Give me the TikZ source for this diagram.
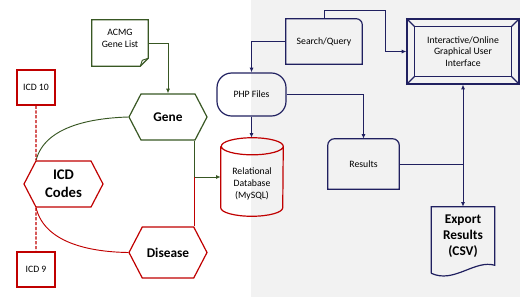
\documentclass[tikz,border=0pt]{standalone}
\usepackage{fontspec}
\setmainfont{Carlito}
\usetikzlibrary{shapes,arrows.meta,calc}

\definecolor{leafgreen}{RGB}{56,87,35}
\definecolor{deepred}{RGB}{192,0,0}
\definecolor{navyblue}{RGB}{32,32,96}

\begin{document}
\begin{tikzpicture}[x=0.75pt, y=-0.75pt, every node/.style={font=\fontsize{7.3}{8.8}\selectfont},
    >={Latex[length=3.5pt,width=3pt]}]
    \tikzstyle{hexa} = [signal, signal to=east and west, signal pointer angle=125, draw, line width=0.9pt,
        align=center, inner sep=0pt, font=\fontsize{10}{12}\selectfont\bfseries]
    \tikzstyle{codebox} = [rectangle, draw=deepred, line width=0.9pt, minimum width=28.5pt, minimum height=26.25pt]
    \tikzstyle{plain} = [draw=none, align=center, inner sep=0pt]
    \tikzstyle{gline} = [draw=leafgreen, line width=0.7pt]
    \tikzstyle{rline} = [draw=deepred, line width=0.7pt]
    \tikzstyle{nline} = [draw=navyblue, line width=0.7pt]
    \tikzstyle{outline} = [line width=0.9pt]

    \useasboundingbox (0,0) rectangle (520,297);
    \fill[black!5] (251,0) rectangle (520,297);

    \node (acmg) [plain, minimum width=42pt, minimum height=34.5pt] at (120,43)
        {\raisebox{3pt}[\height][\depth]{\begin{tabular}{@{}c@{}}ACMG\\Gene List\end{tabular}}};
    \node (icdten) [codebox] at (36,87.5) {ICD 10};
    \node (icdnine) [codebox] at (36,269.5) {ICD 9};
    \node (gene) [hexa, draw=leafgreen, minimum width=58.5pt, minimum height=34.5pt] at (168,117) {Gene};
    \node (icd) [hexa, draw=deepred, minimum width=59.25pt, minimum height=34.5pt,
        font=\fontsize{11}{13.5}\selectfont\bfseries] at (63.5,184) {ICD\\Codes};
    \node (disease) [hexa, draw=deepred, minimum width=58.5pt, minimum height=38.25pt] at (168,252.5) {Disease};
    \node (db) [plain, minimum width=46.5pt, minimum height=58.5pt] at (252,177)
        {\raisebox{-5.25pt}[\height][\depth]{\begin{tabular}{@{}c@{}}Relational\\Database\\(MySQL)\end{tabular}}};
    \node (php) [rectangle, draw=navyblue, outline, rounded corners=11pt, minimum width=51.75pt,
        minimum height=32.25pt] at (251.5,94.5) {PHP Files};
    \node (sq) [plain, minimum width=57pt, minimum height=33.75pt] at (324,41.5) {Search/Query};
    \node (results) [plain, minimum width=53.25pt, minimum height=37.5pt] at (363.5,164) {Results};
    \node (gui) [rectangle, draw=navyblue, outline, align=center, minimum width=84pt,
        minimum height=48.75pt] at (463,51.5) {Interactive/Online\\Graphical User\\Interface};
    \node (export) [plain, minimum width=47.25pt, minimum height=43.5pt,
        font=\fontsize{10}{12}\selectfont\bfseries] at (463,236) {Export\\Results\\(CSV)};

    \draw[leafgreen, outline] (acmg.north west) -- (acmg.north east) -- ([yshift=6pt]acmg.south east)
        -- ([xshift=-6pt]acmg.south east) -- (acmg.south west) -- cycle;
    \draw[leafgreen, line width=0.7pt] ([yshift=6pt]acmg.south east) -- ([xshift=-4.5pt,yshift=4.5pt]acmg.south east)
        -- ([xshift=-6pt]acmg.south east);
    \draw[deepred, outline] ([yshift=-6.4pt]db.north west) -- ([yshift=6.4pt]db.south west)
        arc[start angle=180, end angle=360, x radius=23.25pt, y radius=6.4pt] -- ([yshift=-6.4pt]db.north east)
        arc[start angle=0, end angle=180, x radius=23.25pt, y radius=6.4pt]
        arc[start angle=180, end angle=360, x radius=23.25pt, y radius=6.4pt];
    \draw[navyblue, outline] (sq.south west) -- (sq.north west) -- ([xshift=-4.5pt]sq.north east)
        arc[start angle=90, end angle=0, radius=4.5pt] -- (sq.south east) -- cycle;
    \draw[navyblue, outline] (results.south west) -- ([yshift=-5pt]results.north west)
        arc[start angle=180, end angle=90, radius=5pt] -- ([xshift=-5pt]results.north east)
        arc[start angle=90, end angle=0, radius=5pt] -- (results.south east) -- cycle;
    \draw[navyblue, outline] ([shift={(6pt,-6pt)}]gui.north west) rectangle ([shift={(-6pt,6pt)}]gui.south east);
    \draw[navyblue, outline] (gui.north west) -- ([shift={(6pt,-6pt)}]gui.north west)
        (gui.north east) -- ([shift={(-6pt,-6pt)}]gui.north east)
        (gui.south west) -- ([shift={(6pt,6pt)}]gui.south west)
        (gui.south east) -- ([shift={(-6pt,6pt)}]gui.south east);
    \draw[navyblue, outline] ([yshift=-6pt]export.south west) -- (export.north west) -- (export.north east)
        -- (export.south east) .. controls ([xshift=-15pt,yshift=4.5pt]export.south east)
        and ([xshift=17pt,yshift=-14pt]export.south west) .. ([yshift=-6pt]export.south west);

    \coordinate (icdtop) at ([xshift=-20.6pt]icd.north);
    \coordinate (icdfoot) at ([xshift=-20.6pt]icd.south);
    \coordinate (genefoot) at ([xshift=20pt]gene.south);
    \coordinate (diseasetop) at ([xshift=20pt]disease.north);
    \coordinate (loop) at (385,10);

    \draw[gline, ->] (acmg.east) -| (gene.north);
    \draw[gline] (gene.west) .. controls (95,118) and (45,125) .. (icdtop);
    \draw[rline] (icdfoot) .. controls (45,245) and (95,252) .. (disease.west);
    \draw[rline, line width=0.9pt, dash pattern=on 2.4pt off 1.2pt] (icdten.south) -- (icdtop);
    \draw[rline, line width=0.9pt, dash pattern=on 2.4pt off 1.2pt] (icdfoot) -- (icdnine.north);
    \draw[gline, ->] (genefoot) |- (db.west);
    \draw[rline] (diseasetop) -- (diseasetop |- db.west);

    \draw[nline, ->] (sq.west) -| (php.north);
    \draw[nline, ->] (php.south) -- (php.south |- db.north);
    \draw[nline, ->] (php.east) -| (results.north);
    \draw[nline, ->] (sq.north) |- (loop) |- (gui.west);
    \draw[nline, <->] (gui.south) -- (export.north);
    \draw[nline] (results.east) -- (results.east -| gui.south);
\end{tikzpicture}
\end{document}
